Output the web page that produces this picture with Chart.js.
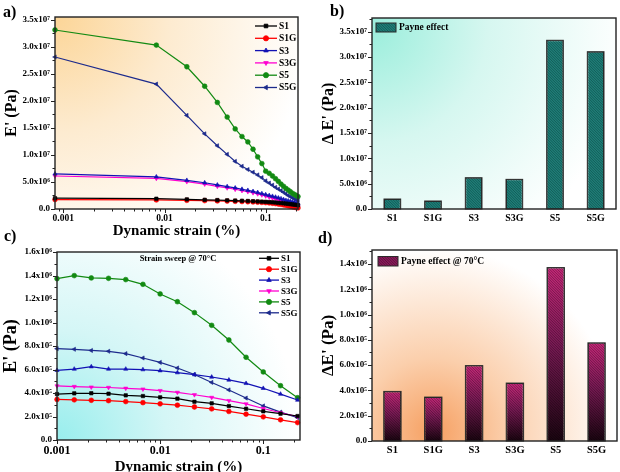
<!DOCTYPE html>
<html><head><meta charset="utf-8">
<script src="https://cdn.jsdelivr.net/npm/chart.js@4.4.1/dist/chart.umd.min.js"></script>
<style>
html,body{margin:0;padding:0;background:#fff;}
#wrap{position:relative;width:620px;height:472px;overflow:hidden;background:#fff;}
canvas{position:absolute;}
</style></head><body><div id="wrap">
<canvas id="ca" width="312" height="240" style="left:0;top:0"></canvas>
<canvas id="cb" width="310" height="240" style="left:310px;top:0"></canvas>
<canvas id="cc" width="312" height="250" style="left:0;top:226px"></canvas>
<canvas id="cd" width="310" height="246" style="left:310px;top:226px"></canvas>
</div>
<script>
// ---------- DATA ----------
const seriesNames = ['S1','S1G','S3','S3G','S5','S5G'];
const categories = ['S1','S1G','S3','S3G','S5','S5G'];

// panel a: strain sweep (room temperature)
const strainA = [0.00083, 0.0083, 0.0166, 0.0249, 0.0332, 0.0415, 0.0498, 0.0581, 0.0664, 0.0747, 0.083, 0.0913, 0.0996, 0.1079, 0.1162, 0.1245, 0.1328, 0.1411, 0.1494, 0.1577, 0.166, 0.1743, 0.1826, 0.1909, 0.1992, 0.2075];
const aS1  = [2.0e6,1.9e6,1.78e6,1.7e6,1.65e6,1.6e6,1.56e6,1.52e6,1.48e6,1.44e6,1.4e6,1.36e6,1.32e6,1.28e6,1.24e6,1.2e6,1.15e6,1.1e6,1.05e6,1.0e6,0.95e6,0.9e6,0.85e6,0.8e6,0.75e6,0.7e6];
const aS1G = [1.75e6,1.68e6,1.6e6,1.55e6,1.5e6,1.46e6,1.42e6,1.38e6,1.34e6,1.3e6,1.26e6,1.22e6,1.18e6,1.12e6,1.06e6,1.0e6,0.92e6,0.84e6,0.76e6,0.68e6,0.6e6,0.5e6,0.42e6,0.34e6,0.26e6,0.2e6];
const aS3  = [6.5e6,5.95e6,5.3e6,4.85e6,4.45e6,4.15e6,3.9e6,3.65e6,3.45e6,3.25e6,3.05e6,2.85e6,2.65e6,2.5e6,2.35e6,2.2e6,2.05e6,1.9e6,1.75e6,1.6e6,1.5e6,1.4e6,1.3e6,1.2e6,1.1e6,1.0e6];
const aS3G = [6.1e6,5.65e6,5.05e6,4.6e6,4.2e6,3.9e6,3.65e6,3.4e6,3.2e6,3.0e6,2.8e6,2.6e6,2.4e6,2.2e6,2.0e6,1.85e6,1.7e6,1.5e6,1.35e6,1.2e6,1.05e6,0.9e6,0.75e6,0.6e6,0.5e6,0.4e6];
const aS5  = [3.31e7,3.03e7,2.63e7,2.27e7,1.97e7,1.70e7,1.48e7,1.34e7,1.24e7,1.105e7,0.964e7,0.84e7,0.70e7,0.66e7,0.61e7,0.56e7,0.51e7,0.46e7,0.42e7,0.38e7,0.35e7,0.32e7,0.29e7,0.27e7,0.25e7,0.23e7];
const aS5G = [2.81e7,2.31e7,1.73e7,1.39e7,1.17e7,1.01e7,0.88e7,0.79e7,0.73e7,0.68e7,0.63e7,0.58e7,0.52e7,0.48e7,0.44e7,0.40e7,0.37e7,0.34e7,0.31e7,0.28e7,0.25e7,0.23e7,0.21e7,0.19e7,0.175e7,0.16e7];

// panel b: Payne effect
const bPayne = [1.97e6, 1.58e6, 6.18e6, 5.85e6, 3.33e7, 3.105e7];

// panel c: strain sweep @ 70 C
const strainC = [0.001, 0.00147, 0.00215, 0.00316, 0.00464, 0.00681, 0.01, 0.0147, 0.0215, 0.0316, 0.0464, 0.0681, 0.1, 0.147, 0.215];
const cS1  = [3.91e5,3.97e5,3.98e5,3.94e5,3.80e5,3.74e5,3.63e5,3.52e5,3.26e5,3.12e5,2.89e5,2.66e5,2.44e5,2.24e5,2.04e5];
const cS1G = [3.45e5,3.42e5,3.38e5,3.35e5,3.27e5,3.18e5,3.08e5,2.96e5,2.81e5,2.65e5,2.43e5,2.20e5,1.97e5,1.72e5,1.48e5];
const cS3  = [5.93e5,6.04e5,6.24e5,6.04e5,6.04e5,5.99e5,5.90e5,5.73e5,5.56e5,5.36e5,5.11e5,4.82e5,4.40e5,3.91e5,3.40e5];
const cS3G = [4.60e5,4.55e5,4.50e5,4.47e5,4.40e5,4.33e5,4.20e5,4.05e5,3.85e5,3.62e5,3.35e5,3.07e5,2.68e5,2.32e5,2.00e5];
const cS5  = [1.373e6,1.399e6,1.379e6,1.376e6,1.365e6,1.325e6,1.243e6,1.177e6,1.084e6,9.76e5,8.51e5,7.04e5,5.79e5,4.62e5,3.60e5];
const cS5G = [7.77e5,7.72e5,7.62e5,7.55e5,7.35e5,6.98e5,6.60e5,6.13e5,5.57e5,4.90e5,4.26e5,3.57e5,2.90e5,2.37e5,1.90e5];

// panel d: Payne effect @ 70 C
const dPayne = [3.92e5, 3.47e5, 5.96e5, 4.58e5, 1.371e6, 7.76e5];

// tick labels
const aYTicks = [0, 5e6, 1e7, 1.5e7, 2e7, 2.5e7, 3e7, 3.5e7];
const aYLabels = ['0.0','5.0x10\u2076','1.0x10\u2077','1.5x10\u2077','2.0x10\u2077','2.5x10\u2077','3.0x10\u2077','3.5x10\u2077'];
const logTicks = [0.001, 0.01, 0.1];
const logLabels = ['0.001','0.01','0.1'];
const cYTicks = [0, 2e5, 4e5, 6e5, 8e5, 1e6, 1.2e6, 1.4e6, 1.6e6];
const cYLabels = ['0.0','2.0x10\u2075','4.0x10\u2075','6.0x10\u2075','8.0x10\u2075','1.0x10\u2076','1.2x10\u2076','1.4x10\u2076','1.6x10\u2076'];
const dYTicks = [0, 2e5, 4e5, 6e5, 8e5, 1e6, 1.2e6, 1.4e6];
const dYLabels = ['0.0','2.0x10\u2075','4.0x10\u2075','6.0x10\u2075','8.0x10\u2075','1.0x10\u2076','1.2x10\u2076','1.4x10\u2076'];

// ---------- STYLE ----------
const SERIF = "'Liberation Serif','Times New Roman',serif";
const lineStyles = [
  {color:'#000000', pointStyle:'rect', rot:0},
  {color:'#ff0000', pointStyle:'circle', rot:0},
  {color:'#1212b4', pointStyle:'triangle', rot:0},
  {color:'#ff00d0', pointStyle:'triangle', rot:180},
  {color:'#128a12', pointStyle:'circle', rot:0},
  {color:'#1c2a8c', pointStyle:'triangle', rot:-90}
];

function drawMarker(ctx, style, rot, x, y, r, color){
  ctx.save();
  ctx.fillStyle = color; ctx.strokeStyle = color; ctx.lineWidth = 0.8;
  if (Chart.helpers && Chart.helpers.drawPoint) {
    Chart.helpers.drawPoint(ctx, {pointStyle: style, radius: r, rotation: rot, borderWidth: 0.8}, x, y);
  } else {
    ctx.beginPath(); ctx.arc(x, y, r, 0, Math.PI*2); ctx.fill();
  }
  ctx.restore();
}

// background gradient in plot area
const bgPlugin = {
  id: 'bgGrad',
  beforeDatasetsDraw(chart, args, o) {
    if (!o || !o.stops) return;
    const {ctx, chartArea: a} = chart;
    const w = a.right - a.left, h = a.bottom - a.top;
    const cx = a.left + o.cx * w, cy = a.top + o.cy * h;
    const g = ctx.createRadialGradient(cx, cy, 0, cx, cy, o.r * w);
    o.stops.forEach(s => g.addColorStop(s[0], s[1]));
    ctx.save();
    ctx.fillStyle = g;
    ctx.fillRect(a.left, a.top, w, h);
    ctx.restore();
  }
};

// frame and tick marks
const framePlugin = {
  id: 'frame',
  afterDraw(chart, args, o) {
    const {ctx, chartArea: a} = chart;
    const xs = chart.scales.x, ys = chart.scales.y;
    ctx.save();
    ctx.strokeStyle = '#222';
    ctx.lineWidth = 1;
    const seg = (x1,y1,x2,y2)=>{ctx.beginPath();ctx.moveTo(x1,y1);ctx.lineTo(x2,y2);ctx.stroke();};
    const ym = o.yMajor || [];
    ym.forEach(v => { const p = Math.round(ys.getPixelForValue(v)) + 0.5; seg(a.left - 4, p, a.left, p); });
    for (let i = 0; i < ym.length; i++) {
      const step = ym.length > 1 ? ym[1] - ym[0] : 0;
      const v = ym[i] + step / 2;
      if (v < ys.max) { const p = Math.round(ys.getPixelForValue(v)) + 0.5; seg(a.left - 2.5, p, a.left, p); }
    }
    if (o.xLog) {
      const xm = o.xMajor || [];
      xm.forEach(v => { const p = Math.round(xs.getPixelForValue(v)) + 0.5; seg(p, a.bottom, p, a.bottom + 4); });
      for (let e = -4; e <= 0; e++) {
        for (let m = 2; m <= 9; m++) {
          const v = m * Math.pow(10, e);
          if (v > xs.min && v < xs.max) { const p = Math.round(xs.getPixelForValue(v)) + 0.5; seg(p, a.bottom, p, a.bottom + 2.5); }
        }
      }
    }
    ctx.lineWidth = 1.4;
    ctx.strokeRect(a.left, a.top, a.right - a.left, a.bottom - a.top);
    ctx.restore();
  }
};

// texts (panel letter etc.)
const textPlugin = {
  id: 'texts',
  afterDraw(chart, args, o) {
    if (!o || !o.items) return;
    const ctx = chart.ctx;
    ctx.save();
    o.items.forEach(t => {
      ctx.font = t.font; ctx.fillStyle = '#000';
      ctx.textAlign = t.align || 'left'; ctx.textBaseline = t.baseline || 'alphabetic';
      ctx.fillText(t.text, t.x, t.y);
    });
    ctx.restore();
  }
};

// legend for line panels
const lineLegendPlugin = {
  id: 'lineLegend',
  afterDraw(chart, args, o) {
    if (!o || !o.show) return;
    const ctx = chart.ctx;
    chart.data.datasets.forEach((ds, i) => {
      const y = o.y + i * o.dy;
      ctx.save();
      ctx.strokeStyle = ds.borderColor; ctx.lineWidth = 1.3;
      ctx.beginPath(); ctx.moveTo(o.x, y); ctx.lineTo(o.x + o.len, y); ctx.stroke();
      ctx.restore();
      drawMarker(ctx, ds.pointStyle, ds.pointRotation || 0, o.x + o.len / 2, y, 2.6, ds.borderColor);
      ctx.save();
      ctx.fillStyle = '#000'; ctx.font = o.font; ctx.textAlign = 'left'; ctx.textBaseline = 'middle';
      ctx.fillText(ds.label, o.x + o.len + 2, y + 0.5);
      ctx.restore();
    });
  }
};

function hatch(ctx, l, t, w, h, color, spacing) {
  ctx.save();
  ctx.beginPath(); ctx.rect(l, t, w, h); ctx.clip();
  ctx.strokeStyle = color; ctx.lineWidth = 0.9;
  for (let s = -h; s < w + h; s += spacing) {
    ctx.beginPath(); ctx.moveTo(l + s, t); ctx.lineTo(l + s + h, t + h); ctx.stroke();
  }
  ctx.restore();
}

// hatch overlay on bars + bar legend
const barPlugin = {
  id: 'barDeco',
  afterDatasetsDraw(chart, args, o) {
    if (!o || !o.show) return;
    const ctx = chart.ctx;
    const meta = chart.getDatasetMeta(0);
    meta.data.forEach(el => {
      const p = el.getProps(['x', 'y', 'base', 'width'], true);
      const l = p.x - p.width / 2, t = Math.min(p.y, p.base), h = Math.abs(p.base - p.y);
      hatch(ctx, l, t, p.width, h, o.hatch, 2.6);
      ctx.save(); ctx.strokeStyle = '#2a2a2a'; ctx.lineWidth = 1;
      ctx.strokeRect(l, t, p.width, h); ctx.restore();
    });
    const L = o.legend;
    ctx.save();
    ctx.fillStyle = L.fill; ctx.fillRect(L.x, L.y, L.w, L.h);
    ctx.restore();
    hatch(ctx, L.x, L.y, L.w, L.h, o.hatch, 2.6);
    ctx.save();
    ctx.strokeStyle = '#2a2a2a'; ctx.lineWidth = 1; ctx.strokeRect(L.x, L.y, L.w, L.h);
    ctx.fillStyle = '#000'; ctx.font = L.font; ctx.textBaseline = 'middle'; ctx.textAlign = 'left';
    ctx.fillText(chart.data.datasets[0].label, L.x + L.w + 3, L.y + L.h / 2 + 0.5);
    ctx.restore();
  }
};

Chart.register(bgPlugin, framePlugin, textPlugin, lineLegendPlugin, barPlugin);

function lineDatasets(xs, ys) {
  return ys.map((arr, i) => ({
    label: seriesNames[i],
    data: xs.map((x, j) => ({x: x, y: arr[j]})),
    borderColor: lineStyles[i].color,
    backgroundColor: lineStyles[i].color,
    pointBackgroundColor: lineStyles[i].color,
    pointBorderColor: lineStyles[i].color,
    pointStyle: lineStyles[i].pointStyle,
    pointRotation: lineStyles[i].rot,
    pointRadius: 2.4,
    pointBorderWidth: 0.6,
    borderWidth: 1.2,
    tension: 0,
    clip: false
  }));
}

const noGrid = {display: false, drawTicks: false, tickLength: 0};

function yTickCfg(ticksArr, labelsArr, size, max, width, title, titleSize, titlePadTop) {
  return {
    type: 'linear', min: 0, max: max,
    afterBuildTicks: s => { s.ticks = ticksArr.map(v => ({value: v})); },
    afterFit: s => { s.width = width; },
    grid: noGrid,
    border: {display: false},
    ticks: {
      font: {family: SERIF, weight: 'bold', size: size}, color: '#000', padding: 5,
      callback: v => { const k = ticksArr.indexOf(v); return k >= 0 ? labelsArr[k] : ''; }
    },
    title: {display: true, text: title, color: '#000',
      font: {family: SERIF, weight: 'bold', size: titleSize}, padding: {top: titlePadTop, bottom: 0}}
  };
}

function logXCfg(min, max, size, height, title, titleSize) {
  return {
    type: 'logarithmic', min: min, max: max,
    afterBuildTicks: s => { s.ticks = logTicks.map(v => ({value: v})); },
    afterFit: s => { s.height = height; },
    grid: noGrid,
    border: {display: false},
    ticks: {
      font: {family: SERIF, weight: 'bold', size: size}, color: '#000', padding: 4,
      autoSkip: false, maxRotation: 0,
      callback: v => { const k = logTicks.indexOf(v); return k >= 0 ? logLabels[k] : ''; }
    },
    title: {display: true, text: title, color: '#000',
      font: {family: SERIF, weight: 'bold', size: titleSize}, padding: {top: 0, bottom: 0}}
  };
}

const common = {responsive: false, animation: false, devicePixelRatio: 1, events: []};

// ---------- panel a ----------
new Chart(document.getElementById('ca'), {
  type: 'line',
  data: {datasets: lineDatasets(strainA, [aS1, aS1G, aS3, aS3G, aS5, aS5G])},
  options: Object.assign({}, common, {
    layout: {padding: {left: 0, top: 17, right: 14, bottom: 0}},
    scales: {
      x: logXCfg(0.00083, 0.2075, 9.5, 31, 'Dynamic strain (%)', 15),
      y: yTickCfg(aYTicks, aYLabels, 9, 3.55e7, 55, "E' (Pa)", 16, 2)
    },
    plugins: {
      legend: {display: false}, tooltip: {enabled: false},
      bgGrad: {cx: 0, cy: 0, r: 1.05, stops: [[0, '#fcd597'], [0.45, '#fdebd0'], [1, '#ffffff']]},
      frame: {yMajor: aYTicks, xMajor: logTicks, xLog: true},
      texts: {items: [{text: 'a)', x: 3, y: 17, font: "bold 16px " + SERIF}]},
      lineLegend: {show: true, x: 255, y: 26, dy: 12.3, len: 22, font: "bold 9.5px " + SERIF}
    }
  })
});

// ---------- panel b ----------
const tealHatchFill = '#1f7e78';
new Chart(document.getElementById('cb'), {
  type: 'bar',
  data: {labels: categories, datasets: [{
    label: 'Payne effect', data: bPayne,
    backgroundColor: tealHatchFill, borderColor: '#2a2a2a', borderWidth: 1,
    barPercentage: 0.41, categoryPercentage: 1
  }]},
  options: Object.assign({}, common, {
    layout: {padding: {left: 0, top: 18, right: 4, bottom: 0}},
    scales: {
      x: {type: 'category', offset: true, grid: noGrid, border: {display: false},
        afterFit: s => { s.height = 31; },
        ticks: {font: {family: SERIF, weight: 'bold', size: 10}, color: '#000', padding: 3}},
      y: yTickCfg(aYTicks, aYLabels, 9, 3.77e7, 62, "\u0394 E' (Pa)", 16, 9)
    },
    plugins: {
      legend: {display: false}, tooltip: {enabled: false},
      bgGrad: {cx: 0, cy: 0.05, r: 1.05, stops: [[0, '#9beedc'], [0.45, '#d6f7f0'], [1, '#ffffff']]},
      frame: {yMajor: aYTicks},
      texts: {items: [{text: 'b)', x: 20, y: 16, font: "bold 16px " + SERIF}]},
      barDeco: {show: true, hatch: 'rgba(8,60,56,0.55)',
        legend: {x: 66, y: 23, w: 20, h: 9, fill: tealHatchFill, font: "bold 9.5px " + SERIF}}
    }
  })
});

// ---------- panel c ----------
new Chart(document.getElementById('cc'), {
  type: 'line',
  data: {datasets: lineDatasets(strainC, [cS1, cS1G, cS3, cS3G, cS5, cS5G])},
  options: Object.assign({}, common, {
    layout: {padding: {left: 0, top: 26, right: 12, bottom: 0}},
    scales: {
      x: logXCfg(0.001, 0.227, 12, 36, 'Dynamic strain (%)', 15),
      y: yTickCfg(cYTicks, cYLabels, 9, 1.6e6, 57, "E' (Pa)", 18, 1)
    },
    plugins: {
      legend: {display: false}, tooltip: {enabled: false},
      bgGrad: {cx: 0, cy: 1, r: 1.0, stops: [[0, '#98eeed'], [0.45, '#d4f6f6'], [1, '#ffffff']]},
      frame: {yMajor: cYTicks, xMajor: logTicks, xLog: true},
      texts: {items: [
        {text: 'c)', x: 4, y: 15, font: "bold 16px " + SERIF},
        {text: 'Strain sweep @ 70\u00B0C', x: 178, y: 33, align: 'center', baseline: 'middle', font: "bold 8.5px " + SERIF}
      ]},
      lineLegend: {show: true, x: 259, y: 32.3, dy: 10.9, len: 20, font: "bold 9px " + SERIF}
    }
  })
});

// ---------- panel d ----------
new Chart(document.getElementById('cd'), {
  type: 'bar',
  data: {labels: categories, datasets: [{
    label: 'Payne effect @ 70\u00B0C', data: dPayne,
    backgroundColor: ctx => {
      const ch = ctx.chart;
      if (!ch.chartArea || !ch.scales.y || ctx.parsed === undefined || ctx.parsed === null) return '#a0185a';
      const ys = ch.scales.y;
      const top = ys.getPixelForValue(ctx.parsed.y), bot = ys.getPixelForValue(0);
      if (!isFinite(top) || !isFinite(bot)) return '#a0185a';
      const g = ch.ctx.createLinearGradient(0, top, 0, bot);
      g.addColorStop(0, '#c8287a'); g.addColorStop(0.45, '#7a1a55'); g.addColorStop(1, '#1a0510');
      return g;
    },
    borderColor: '#2a2a2a', borderWidth: 1,
    barPercentage: 0.425, categoryPercentage: 1
  }]},
  options: Object.assign({}, common, {
    layout: {padding: {left: 0, top: 24, right: 3, bottom: 0}},
    scales: {
      x: {type: 'category', offset: true, grid: noGrid, border: {display: false},
        afterFit: s => { s.height = 31; },
        ticks: {font: {family: SERIF, weight: 'bold', size: 10.5}, color: '#000', padding: 3}},
      y: yTickCfg(dYTicks, dYLabels, 9, 1.51e6, 62, "\u0394E' (Pa)", 17, 8)
    },
    plugins: {
      legend: {display: false}, tooltip: {enabled: false},
      bgGrad: {cx: 0.25, cy: 0.95, r: 0.75, stops: [[0, '#f6a062'], [0.4, '#fbcfac'], [1, '#ffffff']]},
      frame: {yMajor: dYTicks},
      texts: {items: [{text: 'd)', x: 8, y: 17, font: "bold 16px " + SERIF}]},
      barDeco: {show: true, hatch: 'rgba(0,0,0,0.35)',
        legend: {x: 68, y: 30.5, w: 20, h: 9.5, fill: '#8a1a5a', font: "bold 9.5px " + SERIF}}
    }
  })
});
</script>
</body></html>
